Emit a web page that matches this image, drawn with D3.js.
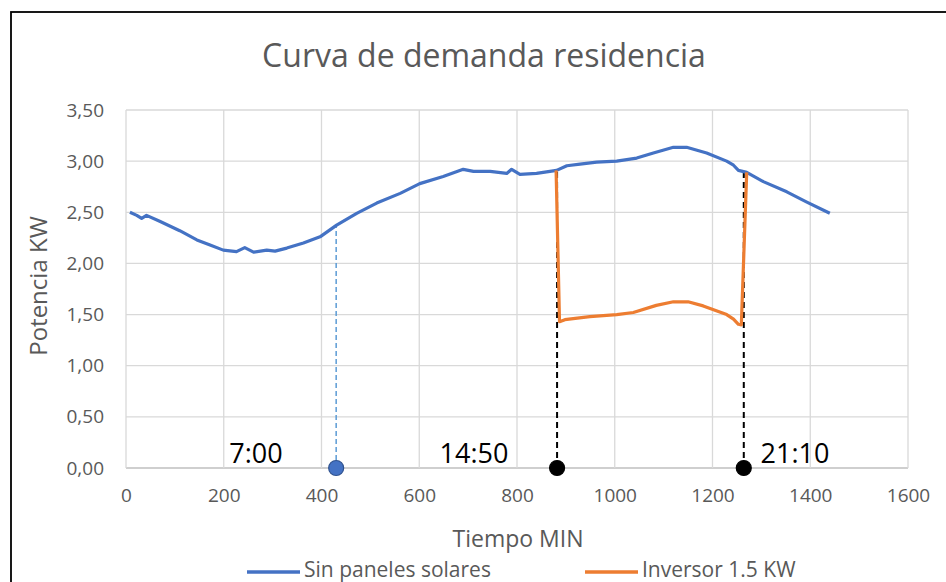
<!DOCTYPE html>
<html><head><meta charset="utf-8">
<script src="https://cdn.jsdelivr.net/npm/d3@7"></script>
<style>body{margin:0;background:#fff}svg{display:block}text{font-family:"Open Sans",sans-serif}</style>
</head><body><svg id="c" width="946" height="582"></svg>
<script>
const title = "Curva de demanda residencia";
const xTicks = [0,200,400,600,800,1000,1200,1400,1600];
const yTicks = [0,0.5,1,1.5,2,2.5,3,3.5];
const blueX = [8,22,32,42,70,110,145,172,199,226,243,261,288,305,329,363,397,431,472,513,561,601,649,690,711,745,779,789,806,840,881,902,929,963,1004,1045,1079,1120,1147,1188,1229,1243,1253,1270,1304,1352,1393,1440];
const blueY = [2.50,2.47,2.44,2.47,2.41,2.32,2.23,2.18,2.13,2.115,2.155,2.11,2.13,2.12,2.15,2.20,2.26,2.375,2.49,2.59,2.685,2.78,2.85,2.92,2.90,2.90,2.88,2.92,2.87,2.88,2.91,2.955,2.97,2.99,3.00,3.03,3.08,3.135,3.135,3.08,3.00,2.96,2.91,2.89,2.80,2.70,2.60,2.49];
const orangeX = [880,887,898,949,1004,1038,1085,1120,1150,1181,1229,1243,1253,1259,1270];
const orangeY = [2.91,1.43,1.45,1.48,1.50,1.52,1.59,1.625,1.625,1.585,1.50,1.455,1.405,1.40,2.89];
const markers = [{x:430,top:2.37,label:"7:00",kind:"blue"},{x:882,top:2.91,label:"14:50",kind:"black"},{x:1264,top:2.90,label:"21:10",kind:"black"}];
const legendNames = ["Sin paneles solares","Inversor 1.5 KW"];
const colors = ["#4472C4","#ED7D31"];

const svg = d3.select("#c");
svg.append("rect").attr("x",11).attr("y",12).attr("width",960).attr("height",600).attr("fill","none").attr("stroke","#000").attr("stroke-width",1.8);
const x = d3.scaleLinear().domain([0,1600]).range([126,908]);
const y = d3.scaleLinear().domain([0,3.5]).range([468,110]);
const g = svg.append("g");
g.selectAll(".hg").data(yTicks).join("line").attr("x1",x(0)).attr("x2",x(1600)).attr("y1",d=>y(d)).attr("y2",d=>y(d)).attr("stroke",d=>d===0?"#bfbfbf":"#d9d9d9").attr("stroke-width",1.3);
g.selectAll(".vg").data(xTicks).join("line").attr("y1",y(0)).attr("y2",y(3.5)).attr("x1",d=>x(d)).attr("x2",d=>x(d)).attr("stroke","#d9d9d9").attr("stroke-width",1.3);
const ax = d3.axisBottom(x).tickValues(xTicks).tickSize(0).tickPadding(21).tickFormat(d3.format("d"));
const xa = svg.append("g").attr("transform",`translate(0,${y(0)})`).call(ax);
xa.select(".domain").remove();
xa.selectAll("text").attr("fill","#595959").style("font-size","19px").style("font-family","Open Sans");
const ay = d3.axisLeft(y).tickValues(yTicks).tickSize(0).tickPadding(22).tickFormat(d=>d3.format(".2f")(d).replace(".",","));
const ya = svg.append("g").attr("transform",`translate(${x(0)},0)`).call(ay);
ya.select(".domain").remove();
ya.selectAll("text").attr("fill","#595959").style("font-size","19px").style("font-family","Open Sans");
svg.append("text").attr("x",484).attr("y",67).attr("text-anchor","middle").attr("fill","#595959").style("font-size","32px").text(title);
svg.append("text").attr("x",518).attr("y",547).attr("text-anchor","middle").attr("fill","#595959").style("font-size","23px").text("Tiempo MIN");
svg.append("text").attr("transform","translate(47,286) rotate(-90)").attr("text-anchor","middle").attr("fill","#595959").style("font-size","24px").text("Potencia KW");
markers.forEach(m=>{
  svg.append("line").attr("x1",x(m.x)).attr("x2",x(m.x)).attr("y1",y(0)).attr("y2",y(m.top))
    .attr("stroke",m.kind==="blue"?"#5B9BD5":"#000").attr("stroke-width",m.kind==="blue"?1.5:2).attr("stroke-dasharray",m.kind==="blue"?"5,3":"6,4");
});
const line = d3.line().x(d=>x(d[0])).y(d=>y(d[1]));
svg.append("path").datum(blueX.map((v,i)=>[v,blueY[i]])).attr("d",line).attr("fill","none").attr("stroke",colors[0]).attr("stroke-width",3.2).attr("stroke-linejoin","round");
svg.append("path").datum(orangeX.map((v,i)=>[v,orangeY[i]])).attr("d",line).attr("fill","none").attr("stroke",colors[1]).attr("stroke-width",3.2).attr("stroke-linejoin","round");
markers.forEach(m=>{
  svg.append("circle").attr("cx",x(m.x)).attr("cy",y(0)).attr("r",7.5)
    .attr("fill",m.kind==="blue"?"#4472C4":"#000").attr("stroke",m.kind==="blue"?"#2F528F":"#000").attr("stroke-width",1.2);
});
const labPos = [256,474,795];
markers.forEach((m,i)=>{
  svg.append("text").attr("x",labPos[i]).attr("y",463).attr("text-anchor","middle").attr("fill","#000").style("font-size","27px").text(m.label);
});
const lg = [{x1:247,x2:300,tx:304},{x1:585,x2:638,tx:642}];
legendNames.forEach((n,i)=>{
  svg.append("line").attr("x1",lg[i].x1).attr("x2",lg[i].x2).attr("y1",572).attr("y2",572).attr("stroke",colors[i]).attr("stroke-width",3.5);
  svg.append("text").attr("x",lg[i].tx).attr("y",577).attr("fill","#595959").style("font-size","21px").text(n);
});
</script></body></html>
